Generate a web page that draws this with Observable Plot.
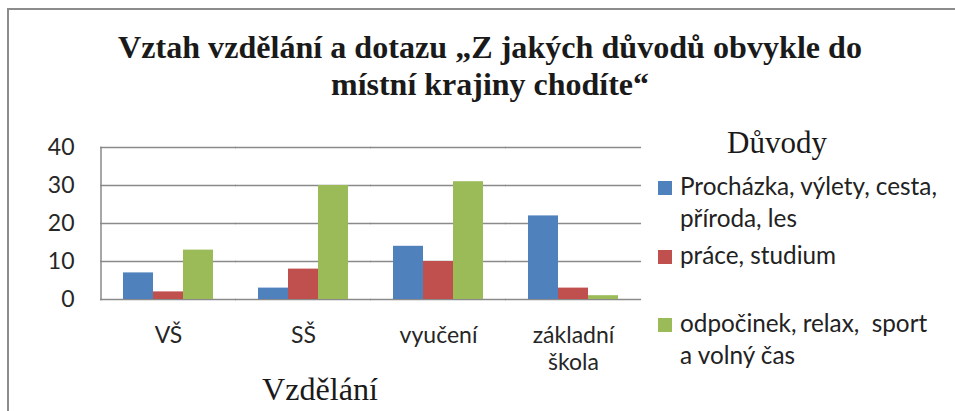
<!DOCTYPE html>
<html>
<head>
<meta charset="utf-8">
<script src="https://cdn.jsdelivr.net/npm/d3@7"></script>
<script src="https://cdn.jsdelivr.net/npm/@observablehq/plot@0.6"></script>
<style>
  html, body { margin: 0; padding: 0; background: #fff; }
  #chart { position: relative; width: 955px; height: 411px; overflow: hidden; background: #fff; }
  #border { position: absolute; left: 7px; top: 8px; width: 1000px; height: 1000px;
            border-left: 2px solid #8c8c8c; border-top: 2px solid #8c8c8c; }
  #plot { position: absolute; left: 0; top: 0; }
  #overlay { position: absolute; left: 0; top: 0; }
  #legend { position: absolute; left: 658px; top: 170px; width: 297px;
            font-family: Lato, sans-serif; font-size: 24.3px; color: #222; }
  .entry { display: flex; align-items: flex-start; height: 68.5px; }
  .sw { width: 14px; height: 14px; margin-top: 11px; margin-right: 8px; flex: none; }
  .lbl { line-height: 32px; white-space: pre; }
</style>
</head>
<body>
<div id="chart">
  <div id="border"></div>
  <div id="plot"></div>
  <svg id="overlay" width="955" height="411"></svg>
  <div id="legend"></div>
</div>
<script>
// ---- data ----
const categories = ["VŠ", "SŠ", "vyučení", "základní škola"];
const seriesNames = ["Procházka, výlety, cesta, příroda, les", "práce, studium", "odpočinek, relax,  sport a volný čas"];
const legendLabels = ["Procházka, výlety, cesta,\npříroda, les", "práce, studium", "odpočinek, relax,  sport\na volný čas"];
const seriesColors = ["#4F81BD", "#C0504D", "#9BBB59"];
const prochazka = [7, 3, 14, 22];
const prace = [2, 8, 10, 3];
const odpocinek = [13, 30, 31, 1];
const yTicks = [0, 10, 20, 30, 40];
const titleLines = ["Vztah vzdělání a dotazu „Z jakých důvodů obvykle do", "místní krajiny chodíte“"];
const xTitle = "Vzdělání";
const legendTitle = "Důvody";

const seriesValues = [prochazka, prace, odpocinek];
const data = categories.flatMap((c, i) =>
  seriesValues.map((vals, j) => ({category: c, series: seriesNames[j], value: vals[i]})));

const chart = Plot.plot({
  width: 955, height: 411,
  marginLeft: 100, marginRight: 314, marginTop: 147, marginBottom: 112,
  style: {fontFamily: "Lato, sans-serif", color: "#262626", background: "transparent", overflow: "visible"},
  fx: {domain: categories, paddingInner: 0.33, paddingOuter: 0.165, label: null, axis: null},
  x: {domain: seriesNames, padding: 0, axis: null},
  y: {domain: [0, 40], ticks: yTicks, label: null, axis: null},
  color: {domain: seriesNames, range: seriesColors},
  marks: [
    Plot.ruleY(yTicks, {stroke: "#8a8a8a", strokeWidth: 1.5, insetLeft: -23, insetRight: -23}),
    Plot.frame({anchor: "left", facet: "super", stroke: "#8a8a8a", strokeWidth: 1.5, insetLeft: -22.5}),
    Plot.barY(data, {fx: "category", x: "series", y: "value", fill: "series"}),
    Plot.axisY(yTicks, {tickSize: 0, tickPadding: 49, fontSize: 23, label: null, fill: "#262626"}),
    Plot.axisFx({anchor: "bottom", tickSize: 0, tickPadding: 24, fontSize: 23, lineWidth: 5, lineHeight: 1.17, label: null, fill: "#262626"})
  ]
});
document.getElementById("plot").appendChild(chart);

// ---- overlay texts (titles) ----
const ov = d3.select("#overlay");
const titleY = [58, 95];
const titleW = [744, 318];
titleLines.forEach((t, i) => {
  ov.append("text").attr("x", 490).attr("y", titleY[i]).attr("text-anchor", "middle")
    .attr("font-family", "'Liberation Serif', 'Times New Roman', serif").attr("font-weight", "bold")
    .attr("font-size", 32).attr("fill", "#1a1a1a")
    .attr("textLength", titleW[i]).attr("lengthAdjust", "spacingAndGlyphs").text(t);
});
ov.append("text").attr("x", 262).attr("y", 400)
  .attr("font-family", "'Liberation Serif', 'Times New Roman', serif").attr("font-size", 32).attr("fill", "#1a1a1a")
  .attr("textLength", 116).attr("lengthAdjust", "spacingAndGlyphs").text(xTitle);
ov.append("text").attr("x", 727).attr("y", 152.5)
  .attr("font-family", "'Liberation Serif', 'Times New Roman', serif").attr("font-size", 31).attr("fill", "#1a1a1a")
  .attr("textLength", 100).attr("lengthAdjust", "spacingAndGlyphs").text(legendTitle);

// ---- legend ----
const lg = d3.select("#legend");
legendLabels.forEach((name, i) => {
  const e = lg.append("div").attr("class", "entry");
  e.append("div").attr("class", "sw").style("background", seriesColors[i]);
  e.append("div").attr("class", "lbl").text(name);
});
</script>
</body>
</html>
